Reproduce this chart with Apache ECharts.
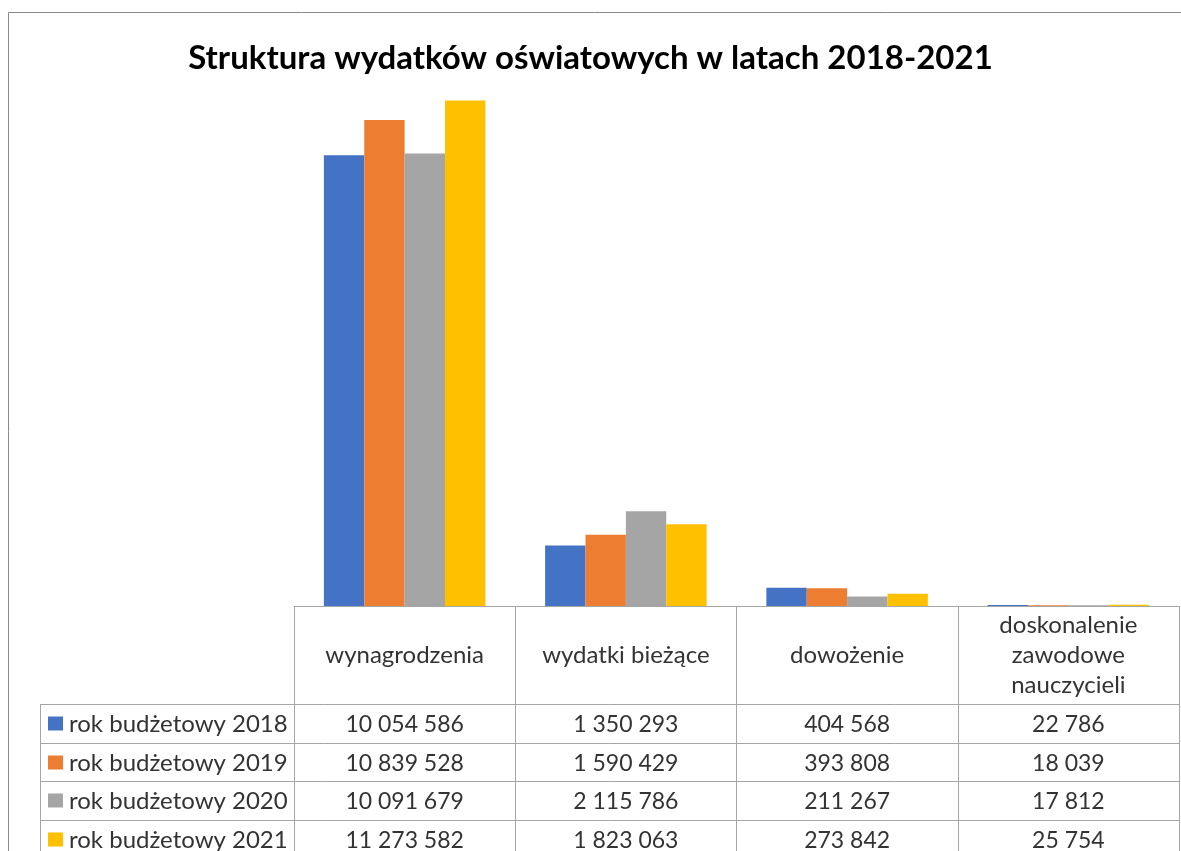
<!DOCTYPE html>
<html>
<head>
<meta charset="utf-8">
<script src="https://cdn.jsdelivr.net/npm/echarts@6/dist/echarts.min.js"></script>
<style>
  html, body { margin: 0; padding: 0; background: #fff; }
  #chart { width: 1181px; height: 851px; }
</style>
</head>
<body>
<div id="chart"></div>
<script>
// Dane
const categories = ['wynagrodzenia', 'wydatki bieżące', 'dowożenie', 'doskonalenie\nzawodowe\nnauczycieli'];
const seriesNames = ['rok budżetowy 2018', 'rok budżetowy 2019', 'rok budżetowy 2020', 'rok budżetowy 2021'];
const values2018 = [10054586, 1350293, 404568, 22786];
const values2019 = [10839528, 1590429, 393808, 18039];
const values2020 = [10091679, 2115786, 211267, 17812];
const values2021 = [11273582, 1823063, 273842, 25754];
const colors = ['#4472C4', '#ED7D31', '#A5A5A5', '#FFC000'];

const allValues = [values2018, values2019, values2020, values2021];
const FONT = 'Lato';
const TEXT = '#333333';
const LINE = '#a6a6a6';

// Geometria tabeli
const gridLeft = 294, gridRight = 2, gridTop = 68, axisY = 606;
const W = 1181, H = 851;
const catW = (W - gridLeft - gridRight) / categories.length;
const rowTops = [704, 743, 781, 820];
const rowH = 39;
const keyLeft = 40;

function fmt(v) {
  return String(v).replace(/\B(?=(\d{3})+(?!\d))/g, ' ');
}

const chart = echarts.init(document.getElementById('chart'), null, { renderer: 'canvas' });

const graphics = [];
// ramka wykresu
graphics.push({
  type: 'polyline',
  shape: { points: [[8.5, H], [8.5, 12.5], [W, 12.5]] },
  style: { stroke: '#8a8a8a', lineWidth: 1, fill: null },
  silent: true
});
// linie poziome wierszy
rowTops.forEach((y) => {
  graphics.push({
    type: 'line',
    shape: { x1: keyLeft, y1: y + 0.5, x2: W - gridRight, y2: y + 0.5 },
    style: { stroke: LINE, lineWidth: 1 },
    silent: true
  });
});
graphics.push({
  type: 'line',
  shape: { x1: keyLeft + 0.5, y1: rowTops[0], x2: keyLeft + 0.5, y2: H },
  style: { stroke: LINE, lineWidth: 1 },
  silent: true
});
// legenda + wartości
seriesNames.forEach((name, r) => {
  const yc = rowTops[r] + rowH / 2;
  graphics.push({
    type: 'rect',
    shape: { x: 48, y: yc - 7, width: 15, height: 14 },
    style: { fill: colors[r] },
    silent: true
  });
  graphics.push({
    type: 'text',
    x: 69, y: yc + 1,
    style: { text: name, fontFamily: FONT, fontSize: 24, fill: TEXT, verticalAlign: 'middle', align: 'left' },
    silent: true
  });
  allValues[r].forEach((v, c) => {
    graphics.push({
      type: 'text',
      x: gridLeft + catW * (c + 0.5), y: yc + 1,
      style: { text: fmt(v), fontFamily: FONT, fontSize: 23, fill: TEXT, verticalAlign: 'middle', align: 'center' },
      silent: true
    });
  });
});

const option = {
  animation: false,
  title: {
    text: 'Struktura wydatków oświatowych w latach 2018-2021',
    left: 'center',
    top: 37,
    textStyle: { fontFamily: FONT, fontWeight: 'bold', fontSize: 33, color: '#000' }
  },
  grid: { left: gridLeft, right: gridRight, top: gridTop, bottom: H - axisY, containLabel: false },
  xAxis: {
    type: 'category',
    data: categories,
    axisLine: { show: true, lineStyle: { color: LINE, width: 1 } },
    axisTick: { show: true, length: H - axisY, lineStyle: { color: LINE, width: 1 } },
    axisLabel: {
      interval: 0,
      margin: 49,
      verticalAlign: 'middle',
      lineHeight: 30,
      fontFamily: FONT,
      fontSize: 24,
      color: TEXT
    }
  },
  yAxis: {
    type: 'value',
    min: 0,
    max: 12000000,
    interval: 2000000,
    show: false,
    splitLine: { show: false }
  },
  series: seriesNames.map((name, i) => ({
    name,
    type: 'bar',
    data: allValues[i],
    barGap: '0%',
    barCategoryGap: '27%',
    itemStyle: { color: colors[i] }
  })),
  graphic: graphics
};

chart.setOption(option);
</script>
</body>
</html>
